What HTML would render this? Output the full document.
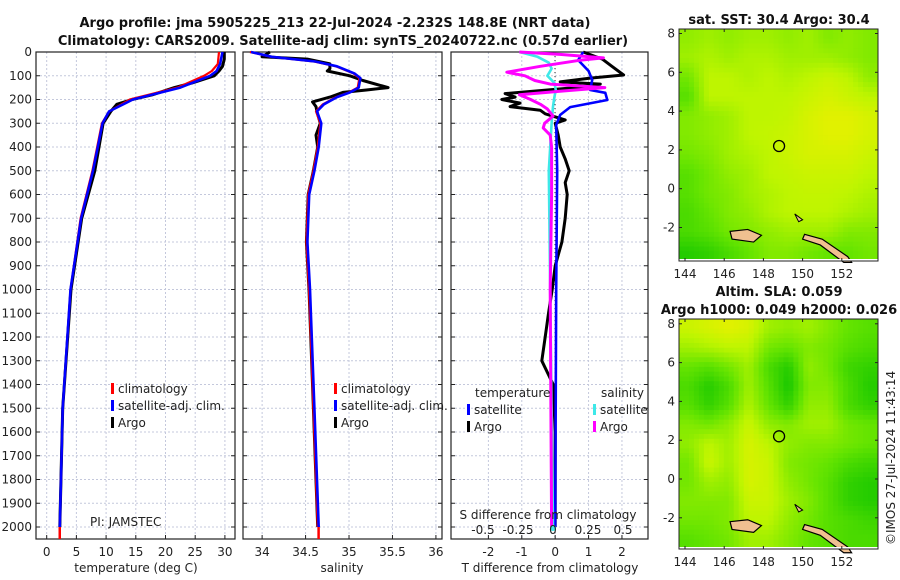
<!DOCTYPE html>
<html><head><meta charset="utf-8"><style>
body{margin:0;background:#fff}
svg{display:block;font-family:"DejaVu Sans","Liberation Sans",sans-serif}
.t{font-size:12px;fill:#222}
.ti{font-size:13px;font-weight:bold;fill:#111}
</style></head><body>
<svg id="c" width="900" height="580" xmlns="http://www.w3.org/2000/svg">
<text class="ti" x="335" y="27" text-anchor="middle">Argo profile: jma 5905225_213 22-Jul-2024 -2.232S 148.8E (NRT data)</text>
<text class="ti" x="343" y="45" text-anchor="middle">Climatology: CARS2009. Satellite-adj clim: synTS_20240722.nc (0.57d earlier)</text>
<text class="ti" x="779" y="24" text-anchor="middle">sat. SST: 30.4 Argo: 30.4</text>
<text class="ti" x="779" y="296" text-anchor="middle">Altim. SLA: 0.059</text>
<text class="ti" x="779" y="314" text-anchor="middle">Argo h1000: 0.049 h2000: 0.026</text>
<text class="t" transform="translate(895,545) rotate(-90)">©IMOS 27-Jul-2024 11:43:14</text>
<g id="g"></g>
</svg>
<script>
// ---- depth axis ----
const depthTicks=[0,100,200,300,400,500,600,700,800,900,1000,1100,1200,1300,1400,1500,1600,1700,1800,1900,2000];
// ---- temperature ----
const tempTicks=[0,5,10,15,20,25,30];
const tArgoDepth=[0,30,60,80,100,130,150,180,200,220,250,300,400,500,700,1000,1500,2000];
const tArgo=[29.9,29.9,29.6,29.0,28.2,24.5,21.5,17.8,14.4,11.8,10.8,9.5,8.8,8.1,5.9,4.1,2.7,2.2];
const tClimDepth=[0,50,80,100,150,200,250,300,400,500,700,1000,1500,2000];
const tClim=[29.0,28.8,27.8,26.5,22.0,14.0,10.5,9.3,8.5,7.7,5.7,4.0,2.7,2.2];
const tSat=[29.6,29.2,28.6,27.5,22.5,14.5,10.5,9.4,8.6,7.8,5.8,4.0,2.7,2.2];
// ---- salinity ----
const salTicks=[34,34.5,35,35.5,36];
const sArgoDepth=[0,20,30,50,70,80,100,120,150,160,170,190,210,230,250,300,350,400,500,600,800,1000,1500,2000];
const sArgo=[34.09,34.0,34.52,34.78,34.78,34.75,35.01,35.16,35.45,35.2,34.93,34.78,34.58,34.62,34.63,34.67,34.62,34.64,34.59,34.53,34.51,34.54,34.59,34.64];
const sClimDepth=[0,20,40,60,90,110,150,170,190,220,250,300,400,500,600,800,1000,1500,2000];
const sClim=[33.86,34.1,34.6,34.85,35.05,35.12,35.1,35.0,34.85,34.7,34.62,34.67,34.64,34.59,34.53,34.51,34.54,34.59,34.64];
const sSat=[33.86,34.1,34.6,34.85,35.05,35.12,35.1,35.0,34.85,34.7,34.62,34.67,34.64,34.59,34.53,34.51,34.54,34.59,34.64];
// ---- differences ----
const tdTicks=[-2,-1,0,1,2];
const sdTicks=[-0.5,-0.25,0,0.25,0.5];
const sdTickLabels=["-0.5","-0.25","0","0.25","0.5"];
const tdArgoDepth=[0,30,60,97,110,126,135,150,175,190,200,215,230,245,260,286,300,350,400,450,500,550,600,700,800,900,1000,1100,1200,1300,1400,1600,2000];
const tdArgo=[0.84,1.41,1.7,2.05,1.05,0.15,1.35,0.6,-1.5,-1.2,-1.6,-1.05,-1.35,-0.45,-0.3,0.3,0,0.09,0.15,0.3,0.42,0.3,0.36,0.3,0.2,0,-0.09,-0.2,-0.3,-0.4,-0.06,0,0];
const tdSatDepth=[0,34,80,118,160,172,202,232,265,307,500,1000,2000];
const tdSat=[0.84,0.69,1.0,1.11,1.05,1.5,1.56,0.45,0.15,0.03,0.06,0.03,0];
const sdArgoDepth=[0,10,25,35,60,85,100,120,135,150,165,180,200,220,240,270,300,320,350,400,600,1000,2000];
const sdArgo=[-0.24,0.05,0.36,0.19,-0.09,-0.33,-0.2,-0.13,-0.02,0.37,0.05,-0.24,-0.16,-0.09,-0.04,0,-0.06,-0.07,-0.02,-0.01,-0.01,-0.02,-0.01];
const sdSatDepth=[0,20,45,70,100,130,160,190,230,300,500,1000,2000];
const sdSat=[-0.24,-0.11,-0.03,-0.01,-0.04,0.01,0.02,0.01,0,-0.01,-0.03,-0.02,0];
// ---- maps (rows north->south, cols west->east), 0=green .. 1=yellow/orange ----
const lonTicks=[144,146,148,150,152];
const latTicks=[8,6,4,2,0,-2];
const sstGrid=[
[.55,.6,.55,.6,.6,.55,.6,.5,.55,.5],
[.6,.65,.6,.65,.65,.6,.6,.6,.55,.5],
[.45,.7,.7,.65,.7,.65,.7,.75,.7,.55],
[.35,.7,.7,.7,.7,.7,.75,.8,.75,.7],
[.5,.55,.6,.7,.7,.72,.8,.85,.85,.8],
[.5,.55,.6,.7,.72,.75,.8,.85,.85,.8],
[.45,.5,.6,.65,.7,.75,.8,.8,.8,.75],
[.35,.45,.55,.6,.7,.72,.75,.75,.75,.7],
[.35,.45,.5,.6,.65,.7,.72,.72,.7,.65],
[.3,.4,.5,.55,.65,.7,.7,.7,.65,.6],
[.3,.35,.45,.5,.55,.6,.6,.6,.5,.5],
[.15,.2,.3,.4,.5,.5,.45,.4,.4,.45]];
const slaGrid=[
[.75,.8,.85,.8,.6,.55,.6,.5,.4,.35],
[.6,.65,.7,.7,.45,.4,.5,.45,.35,.3],
[.4,.35,.45,.6,.3,.15,.55,.45,.25,.2],
[.3,.15,.3,.6,.35,.1,.5,.5,.3,.15],
[.35,.2,.35,.65,.4,.2,.55,.55,.3,.2],
[.5,.45,.55,.75,.55,.5,.6,.6,.45,.4],
[.55,.7,.6,.8,.7,.55,.5,.5,.45,.4],
[.45,.75,.6,.8,.75,.5,.45,.4,.3,.25],
[.45,.6,.55,.8,.75,.55,.45,.35,.2,.15],
[.5,.5,.5,.75,.75,.6,.5,.35,.2,.15],
[.45,.45,.5,.7,.7,.55,.45,.35,.3,.25],
[.35,.4,.45,.6,.6,.5,.4,.35,.3,.3]];

const NS="http://www.w3.org/2000/svg";
const G=document.getElementById('g');
function mk(tag,at,par){const e=document.createElementNS(NS,tag);for(const k in at)e.setAttribute(k,at[k]);(par||G).appendChild(e);return e;}
const yTop=52,yPer=0.2375,yBot=539;
const yD=d=>yTop+d*yPer;
const panels=[
 {x0:36,x1:235,vmin:-1.8,vmax:31.7,ticks:tempTicks,name:'temperature'},
 {x0:243,x1:442,vmin:33.78,vmax:36.07,ticks:salTicks,name:'salinity'},
 {x0:451,x1:648,vmin:-3.12,vmax:2.78,ticks:tdTicks,name:'difference'}];
const xS=(p,v)=>p.x0+(v-p.vmin)/(p.vmax-p.vmin)*(p.x1-p.x0);
const sdX=v=>553+v*140;
panels.forEach((p,i)=>{
  const grid=mk('g',{});
  
  
  depthTicks.forEach(d=>{mk('line',{x1:p.x0,x2:p.x1,y1:yD(d),y2:yD(d),stroke:'#c4c8dc','stroke-dasharray':'2,2','stroke-width':1},grid);
    mk('line',{x1:p.x0,x2:p.x0+4,y1:yD(d),y2:yD(d),stroke:'#222'},grid);mk('line',{x1:p.x1-4,x2:p.x1,y1:yD(d),y2:yD(d),stroke:'#222'},grid);});
  p.ticks.forEach(v=>{const x=xS(p,v);mk('line',{x1:x,x2:x,y1:yTop,y2:yBot,stroke:'#c4c8dc','stroke-dasharray':'2,2'},grid);
    mk('line',{x1:x,x2:x,y1:yBot-4,y2:yBot,stroke:'#222'},grid);
    const t=mk('text',{x:x,y:556,'text-anchor':'middle',class:'t'});t.textContent=v;
    
    });
  const fr=mk('rect',{x:p.x0,y:yTop,width:p.x1-p.x0,height:yBot-yTop,fill:'none',stroke:'#222','stroke-width':1.2});
  
  
});
depthTicks.forEach(d=>{const t=mk('text',{x:32,y:yD(d)+4,'text-anchor':'end',class:'t'});t.textContent=d;
  
  });
mk('line',{x1:555,x2:555,y1:yTop,y2:yBot,stroke:'#333','stroke-dasharray':'1,3'});
function line(xs,ds,xf,col,w,name){
  const pts=xs.map((v,i)=>xf(v).toFixed(1)+','+yD(ds[i]).toFixed(1)).join(' ');
  const e=mk('polyline',{points:pts,fill:'none',stroke:col,'stroke-width':w,'stroke-linejoin':'round'});
  
  
}
const P0=panels[0],P1=panels[1],P2=panels[2];
line(tArgo,tArgoDepth,v=>xS(P0,v),'#000',3,'temp-argo-line');
line(tClim,tClimDepth,v=>xS(P0,v),'#f00',2.2,'temp-climatology-line');
line(tSat,tClimDepth,v=>xS(P0,v),'#00f',2.6,'temp-satellite-line');
line(sArgo,sArgoDepth,v=>xS(P1,v),'#000',3,'sal-argo-line');
line(sClim,sClimDepth,v=>xS(P1,v),'#f00',2.2,'sal-climatology-line');
line(sSat,sClimDepth,v=>xS(P1,v)+1,'#00f',2.6,'sal-satellite-line');
line(tdArgo,tdArgoDepth,v=>xS(P2,v),'#000',3,'tdiff-argo-line');
line(tdSat,tdSatDepth,v=>xS(P2,v),'#00f',2.6,'tdiff-satellite-line');
line(sdSat,sdSatDepth,sdX,'#3ee8e8',2.6,'sdiff-satellite-line');
line(sdArgo,sdArgoDepth,sdX,'#f0f',3,'sdiff-argo-line');
mk('line',{x1:xS(P0,2.2),x2:xS(P0,2.2),y1:yD(2000),y2:yBot,stroke:'#f00','stroke-width':2.5});
mk('line',{x1:xS(P1,34.65),x2:xS(P1,34.65),y1:yD(2000),y2:yBot,stroke:'#f00','stroke-width':2.5});
mk('circle',{cx:553,cy:yD(2000)+1,r:3,fill:'#3ee8e8'});
[['temperature (deg C)',136,'temp-x-axis-title'],['salinity',342,'sal-x-axis-title'],['T difference from climatology',550,'tdiff-x-axis-title']].forEach(a=>{
  const t=mk('text',{x:a[1],y:572,'text-anchor':'middle',class:'t','font-size':'13'});t.textContent=a[0];
  
  });
{const t=mk('text',{x:548,y:519,'text-anchor':'middle',class:'t','font-size':'13'});t.textContent='S difference from climatology';
 
 }
sdTicks.forEach((v,i)=>{const t=mk('text',{x:sdX(v),y:534,'text-anchor':'middle',class:'t'});t.textContent=sdTickLabels[i];
  
  });
{const t=mk('text',{x:90,y:526,class:'t','font-size':'11'});t.textContent='PI: JAMSTEC';
 
 }
function leg(x,y,col,txt,name){
  const g=mk('g',{});
  
  
  mk('rect',{x:x,y:y-9,width:3,height:11,fill:col},g);
  const t=mk('text',{x:x+7,y:y+1,class:'t','font-size':'13'},g);t.textContent=txt;}
leg(111,392,'#f00','climatology','temp-legend-climatology');
leg(111,409,'#00f','satellite-adj. clim.','temp-legend-satellite');
leg(111,426,'#000','Argo','temp-legend-argo');
leg(334,392,'#f00','climatology','sal-legend-climatology');
leg(334,409,'#00f','satellite-adj. clim.','sal-legend-satellite');
leg(334,426,'#000','Argo','sal-legend-argo');
{const t=mk('text',{x:475,y:397,class:'t','font-size':'13'});t.textContent='temperature';
 
 
 const s=mk('text',{x:601,y:397,class:'t','font-size':'13'});s.textContent='salinity';
 
 }
leg(467,413,'#00f','satellite','tdiff-legend-satellite');
leg(467,430,'#000','Argo','tdiff-legend-argo');
leg(593,413,'#3ee8e8','satellite','sdiff-legend-satellite');
leg(593,430,'#f0f','Argo','sdiff-legend-argo');
function cmap(v){const st=[[0,[0,190,0]],[.4,[100,228,0]],[.7,[190,245,0]],[.88,[232,240,0]],[1,[250,205,0]]];
  v=Math.max(0,Math.min(1,v));
  for(let i=1;i<st.length;i++){if(v<=st[i][0]){const a=st[i-1],b=st[i],f=(v-a[0])/(b[0]-a[0]);
    return 'rgb('+a[1].map((c,k)=>Math.round(c+(b[1][k]-c)*f)).join(',')+')';}}return 'rgb(250,205,0)';}
function sample(grid,fy,fx){
  const rows=grid.length,cols=grid[0].length;
  const y=Math.max(0,Math.min(rows-1,fy*rows-0.5)),x=Math.max(0,Math.min(cols-1,fx*cols-0.5));
  const i=Math.floor(y),j=Math.floor(x),i2=Math.min(rows-1,i+1),j2=Math.min(cols-1,j+1),dy=y-i,dx=x-j;
  return grid[i][j]*(1-dy)*(1-dx)+grid[i][j2]*(1-dy)*dx+grid[i2][j]*dy*(1-dx)+grid[i2][j2]*dy*dx;}
function drawMap(grid,x0,y0,x1,y1,lat0y,name){
  const g=mk('g',{});
  
  
  const R=48,C=40,cw=(x1-x0)/C,ch=(y1-y0)/R;
  for(let i=0;i<R;i++)for(let j=0;j<C;j++){
    const v=sample(grid,(i+0.5)/R,(j+0.5)/C);
    mk('rect',{x:x0+j*cw,y:y0+i*ch,width:cw+0.5,height:ch+0.5,fill:cmap(v)},g);}
  const lonX=l=>685+(l-144)*19.6, latY=l=>lat0y-l*19.4;
  mk('path',{d:`M${lonX(146.3)},${latY(-2.2)} L${lonX(147.2)},${latY(-2.1)} L${lonX(147.9)},${latY(-2.4)} L${lonX(147.5)},${latY(-2.75)} L${lonX(146.4)},${latY(-2.6)} Z`,fill:'#f0c090',stroke:'#000','stroke-width':1.2},g);
  mk('path',{d:`M${lonX(150.1)},${latY(-2.35)} L${lonX(151)},${latY(-2.6)} L${lonX(152.3)},${latY(-3.5)} L${lonX(152.5)},${latY(-3.8)} L${lonX(152.1)},${latY(-3.8)} L${lonX(150.9)},${latY(-2.9)} L${lonX(150)},${latY(-2.6)} Z`,fill:'#f0c090',stroke:'#000','stroke-width':1.2},g);
  mk('path',{d:`M${lonX(149.6)},${latY(-1.3)} L${lonX(150)},${latY(-1.6)} L${lonX(149.8)},${latY(-1.7)} Z`,fill:'#f0c090',stroke:'#000'},g);
  mk('rect',{x:x0,y:y1-2,width:x1-x0,height:2,fill:'#fff'},g);
  const ci=mk('circle',{cx:lonX(148.8),cy:latY(2.2),r:5.5,fill:'none',stroke:'#000','stroke-width':1.3});
  
  
  mk('rect',{x:x0,y:y0,width:x1-x0,height:y1-y0,fill:'none',stroke:'#222','stroke-width':1});
  lonTicks.forEach(l=>{mk('line',{x1:lonX(l),x2:lonX(l),y1:y1,y2:y1-3,stroke:'#222'});mk('line',{x1:lonX(l),x2:lonX(l),y1:y0,y2:y0+3,stroke:'#222'});
    const t=mk('text',{x:lonX(l),y:y1+17,'text-anchor':'middle',class:'t'});t.textContent=l;
    
    });
  latTicks.forEach(l=>{mk('line',{x1:x0,x2:x0+3,y1:latY(l),y2:latY(l),stroke:'#222'});mk('line',{x1:x1,x2:x1-3,y1:latY(l),y2:latY(l),stroke:'#222'});
    const t=mk('text',{x:x0-4,y:latY(l)+4,'text-anchor':'end',class:'t'});t.textContent=l;
    
    });
}
drawMap(sstGrid,679,29,878,261,188.7,'sst-map');
drawMap(slaGrid,679,319,878,549,479,'sla-map');
</script>
</body></html>
